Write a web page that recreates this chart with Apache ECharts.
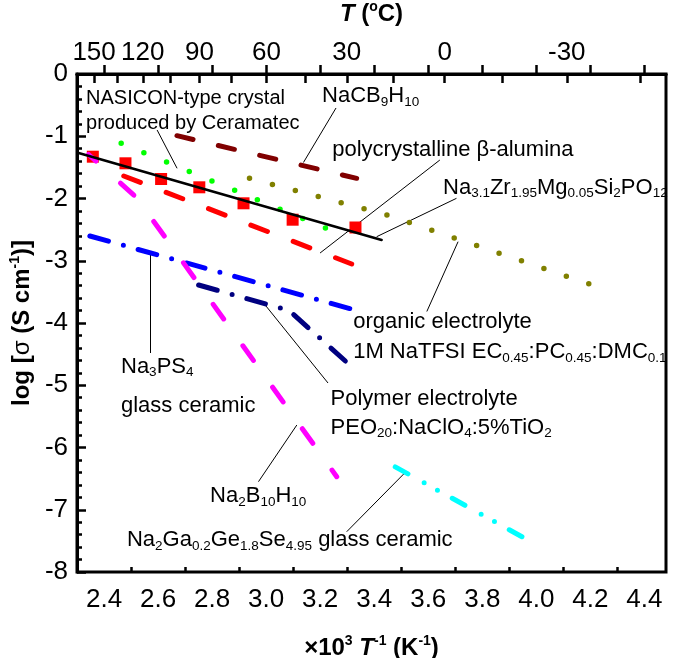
<!DOCTYPE html>
<html><head><meta charset="utf-8">
<script src="https://cdn.jsdelivr.net/npm/echarts@6/dist/echarts.min.js"></script>
<style>html,body{margin:0;padding:0;background:#fff}#c{width:675px;height:658px}</style>
</head><body><div id="c"></div>
<script>
const FONT = "'Liberation Sans', Arial, Helvetica, sans-serif";

// ---- axis ticks ----
const xTickLabels = [2.4, 2.6, 2.8, 3.0, 3.2, 3.4, 3.6, 3.8, 4.0, 4.2, 4.4];
const xMinorTicks = [2.3, 2.5, 2.7, 2.9, 3.1, 3.3, 3.5, 3.7, 3.9, 4.1, 4.3];
const topTickC = [150, 120, 90, 60, 30, 0, -30];
const topMinorC = [135, 105, 75, 45, 15, -15, -45];

// ---- series values: [1000/T (K^-1), log sigma] ----
const naCB9H10 = [[2.670, -0.991], [3.335, -1.676]];
const nasiconCeramatec = [[2.4635, -1.113], [3.302, -2.623]];
const organicElectrolyte = [[2.9385, -1.676], [3.4408, -2.254], [4.277, -3.494]];
const na31ZrFit = [[2.306, -1.269], [3.4275, -2.667]];
const na31ZrPoints = [[2.3586, -1.3285], [2.4794, -1.4345], [2.6113, -1.6867], [2.7527, -1.8201], [2.9163, -2.0771], [3.0981, -2.3406], [3.3307, -2.4659]];
const betaAlumina = [[2.4731, -1.6386], [3.3167, -3.0522]];
const na2B10H10 = [[2.3428, -1.2932], [2.5219, -1.992], [3.2613, -6.4691]];
const na3PS4 = [[2.3476, -2.6024], [3.3289, -3.7912]];
const polymerPEO = [[2.7501, -3.3896], [3.0851, -3.7992], [3.3167, -4.702]];
const na2GaGeSe = [[3.4231, -6.18], [3.9505, -7.4426]];

// ---- annotations ----
const annTexts = [
  '{m|NASICON-type crystal}',
  '{m|produced by Ceramatec}',
  '{n|NaCB}{s|9}{n|H}{s|10}',
  '{n|polycrystalline β-alumina}',
  '{n|Na}{s|3.1}{n|Zr}{s|1.95}{n|Mg}{s|0.05}{n|Si}{s|2}{n|PO}{s|12}',
  '{n|organic electrolyte}',
  '{n|1M NaTFSI EC}{s|0.45}{n|:PC}{s|0.45}{n|:DMC}{s|0.1}',
  '{n|Na}{s|3}{n|PS}{s|4}',
  '{n|glass ceramic}',
  '{n|Polymer electrolyte}',
  '{n|PEO}{s|20}{n|:NaClO}{s|4}{n|:5%TiO}{s|2}',
  '{n|Na}{s|2}{n|B}{s|10}{n|H}{s|10}',
  '{n|Na}{s|2}{n|Ga}{s|0.2}{n|Ge}{s|1.8}{n|Se}{s|4.95}{n| glass ceramic}'
];
const annAnchors = [
  [2.3317, -0.3855], [2.3317, -0.787], [3.2052, -0.353], [3.2428, -1.221],
  [3.6528, -1.823], [3.3204, -3.984], [3.3204, -4.466], [2.461, -4.70],
  [2.461, -5.333], [3.2366, -5.221], [3.2366, -5.679], [2.7908, -6.779], [2.4831, -7.486]
];
const leaders = [
  [[2.5965, -0.900], [2.6704, -1.515]],
  [[3.2587, -0.546], [3.138, -1.422]],
  [[3.643, -1.382], [3.1996, -2.876]],
  [[3.7045, -1.997], [3.409, -2.614]],
  [[3.5948, -3.815], [3.7104, -2.694]],
  [[2.5717, -4.482], [2.5717, -2.908]],
  [[3.229, -4.964], [2.9965, -3.711]],
  [[2.9717, -6.549], [3.1136, -5.639]],
  [[3.2982, -7.353], [3.5136, -6.406]]
];

const toInvT = c => 1000 / (c + 273.15);
const XMIN = 2.3, XMAX = 4.48;

function lineSeries(name, data, color, width, type, extra) {
  return Object.assign({
    name, type: 'line', data, xAxisIndex: 0, yAxisIndex: 0,
    symbol: 'none', showSymbol: false, silent: true, animation: false,
    lineStyle: { color, width, type, cap: 'round', opacity: 1 }
  }, extra || {});
}

const annRich = {
  n: { fontSize: 22, lineHeight: 26, fontFamily: FONT, color: '#000' },
  m: { fontSize: 20, lineHeight: 26, fontFamily: FONT, color: '#000' },
  s: { fontSize: 13.5, lineHeight: 12, verticalAlign: 'bottom', fontFamily: FONT, color: '#000' }
};
const titleRich = {
  b: { fontSize: 24, fontWeight: 'bold', lineHeight: 28, fontFamily: FONT, color: '#000' },
  bi: { fontSize: 24, fontWeight: 'bold', fontStyle: 'italic', lineHeight: 28, fontFamily: FONT, color: '#000' },
  g: { fontSize: 24, fontWeight: 'normal', lineHeight: 28, fontFamily: FONT, color: '#000' },
  p: { fontSize: 14, fontWeight: 'bold', lineHeight: 12, verticalAlign: 'top', fontFamily: FONT, color: '#000' }
};

const chart = echarts.init(document.getElementById('c'), null, { renderer: 'canvas' });
const tickLine = { color: '#000', width: 2.5 };
chart.setOption({
  animation: false,
  backgroundColor: '#fff',
  grid: { left: 77, right: 9, top: 74, bottom: 86, show: true, borderColor: '#000', borderWidth: 3, backgroundColor: 'transparent', containLabel: false, outerBoundsMode: 'none' },
  xAxis: [
    {
      type: 'value', position: 'bottom', min: XMIN, max: XMAX,
      axisLine: { show: true, lineStyle: { color: '#000', width: 3 } },
      axisTick: { show: true, inside: true, length: 9, customValues: xTickLabels, lineStyle: tickLine },
      axisLabel: { show: true, customValues: xTickLabels, formatter: v => v.toFixed(1), fontSize: 26, fontFamily: FONT, color: '#000', margin: 15 },
      splitLine: { show: false },
      name: '{b|×10}{p|3}{b| }{bi|T}{p|-1}{b| (K}{p|-1}{b|)}',
      nameLocation: 'middle', nameGap: 62,
      nameTextStyle: { rich: titleRich }
    },
    {
      type: 'value', position: 'bottom', min: XMIN, max: XMAX,
      axisLine: { show: false },
      axisTick: { show: true, inside: true, length: 5, customValues: xMinorTicks, lineStyle: tickLine },
      axisLabel: { show: false }, splitLine: { show: false }
    },
    {
      type: 'value', position: 'top', min: XMIN, max: XMAX,
      axisLine: { show: true, lineStyle: { color: '#000', width: 3 } },
      axisTick: { show: true, inside: true, length: 9, customValues: topTickC.concat(topMinorC).map(toInvT), lineStyle: tickLine },
      axisLabel: { show: true, customValues: topTickC.map(toInvT), formatter: v => String(Math.round(1000 / v - 273.15)), fontSize: 26, fontFamily: FONT, color: '#000', margin: 8 },
      splitLine: { show: false },
      name: '{bi|T}{b| (}{p|o}{b|C)}',
      nameLocation: 'middle', nameGap: 46,
      nameTextStyle: { rich: titleRich }
    }
  ],
  yAxis: [{
    type: 'value', position: 'left', min: -8, max: 0, interval: 1,
    axisLine: { show: true, lineStyle: { color: '#000', width: 3 } },
    axisTick: { show: true, inside: true, length: 9, lineStyle: tickLine },
    minorTick: { show: true, splitNumber: 5, length: 5, lineStyle: tickLine },
    axisLabel: { fontSize: 26, fontFamily: FONT, color: '#000', margin: 9 },
    splitLine: { show: false }, minorSplitLine: { show: false },
    name: '{b|log [}{g|σ}{b| (S cm}{p|-1}{b|)]}',
    nameLocation: 'middle', nameRotate: 90, nameGap: 41,
    nameTextStyle: { rich: titleRich }
  }],
  series: [
    lineSeries('NaCB9H10', naCB9H10, '#800000', 5, [16.5, 26]),
    lineSeries('NASICON Ceramatec', nasiconCeramatec, '#00ff00', 5.5, [0, 24.57]),
    lineSeries('organic electrolyte', organicElectrolyte, '#808000', 5.5, [0, 23.7]),
    lineSeries('beta-alumina', betaAlumina, '#ff0000', 5, [17.8, 27.6]),
    lineSeries('Na3PS4', na3PS4, '#0000ff', 5, [19.3, 15.5, 0, 15.3]),
    lineSeries('PEO', polymerPEO, '#000080', 5, [19.3, 15.5, 0, 15.3]),
    (function(){ const s = lineSeries('Na2B10H10', na2B10H10, '#ff00ff', 5, [18, 33]); s.lineStyle.dashOffset = 8.1; return s; })(),
    (function(){ const s = lineSeries('Na2GaGeSe', na2GaGeSe, '#00ffff', 5, [14.5, 18.5, 0, 15.2, 0, 16.9]); s.lineStyle.dashOffset = 48.2; return s; })(),
    {
      name: 'Na3.1Zr points', type: 'scatter', data: na31ZrPoints, symbol: 'rect', symbolSize: 12,
      itemStyle: { color: '#ff0000', opacity: 1 }, silent: true, animation: false
    },
    lineSeries('Na3.1Zr fit', na31ZrFit, '#000000', 2.5, 'solid'),
    {
      name: 'leaders', type: 'lines', coordinateSystem: 'cartesian2d', xAxisIndex: 0, yAxisIndex: 0,
      data: leaders.map(c => ({ coords: c })), symbol: 'none', silent: true, animation: false,
      lineStyle: { color: '#000', width: 1, opacity: 1, curveness: 0 }
    },
    {
      name: 'annotations', type: 'scatter', xAxisIndex: 0, yAxisIndex: 0,
      data: annAnchors, symbolSize: 1, itemStyle: { color: 'rgba(0,0,0,0)', opacity: 1 }, silent: true, animation: false,
      label: { show: true, position: 'right', distance: 0, opacity: 1, formatter: p => annTexts[p.dataIndex], rich: annRich, color: '#000' },
      labelLayout: { hideOverlap: false }
    }
  ]
});
</script></body></html>
